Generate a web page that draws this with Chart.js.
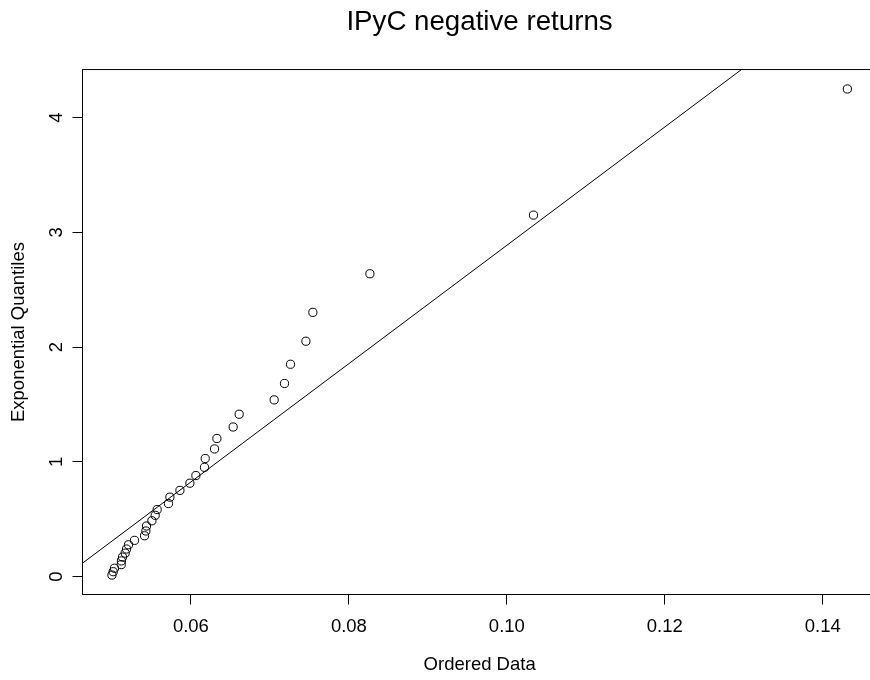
<!DOCTYPE html>
<html lang="en">
<head>
<meta charset="UTF-8">
<title>IPyC negative returns</title>
<script src="https://cdn.jsdelivr.net/npm/chart.js@4.4.1/dist/chart.umd.min.js"></script>
<style>
  html, body { margin: 0; padding: 0; background: #fff; overflow: hidden; }
  .frame { width: 870px; height: 680px; overflow: hidden; position: relative; }
  canvas { position: absolute; left: 0; top: 0; }
</style>
</head>
<body>
<div class="frame">
  <canvas id="qqChart" width="959" height="680" style="width:959px;height:680px"></canvas>
</div>
<script>
// ordered negative returns (x) vs exponential quantiles (y)
const orderedData = [
  0.05000, 0.05016, 0.05033, 0.05118, 0.05120, 0.05134, 0.05168, 0.05185,
  0.05210, 0.05286, 0.05413, 0.05430, 0.05438, 0.05506, 0.05548, 0.05573,
  0.05716, 0.05734, 0.05861, 0.05987, 0.06063, 0.06172, 0.06181, 0.06299,
  0.06329, 0.06535, 0.06611, 0.07054, 0.07185, 0.07261, 0.07456, 0.07544,
  0.08266, 0.10337, 0.14311
];
const expQuantiles = [
  0.0144, 0.0438, 0.0741, 0.1054, 0.1376, 0.1710, 0.2054, 0.2412,
  0.2782, 0.3166, 0.3567, 0.3983, 0.4418, 0.4873, 0.5349, 0.5849,
  0.6376, 0.6931, 0.7520, 0.8145, 0.8812, 0.9526, 1.0296, 1.1130,
  1.2040, 1.3041, 1.4152, 1.5404, 1.6835, 1.8506, 2.0513, 2.3026,
  2.6391, 3.1499, 4.2485
];
// least squares line y = a + b*x
const lineIntercept = -2.267;
const lineSlope = 51.54;

const xTickStep = 0.02;
const yTickStep = 1;

// R style axis limits: data range plus 4% each side
function padRange(vals) {
  const lo = Math.min(...vals), hi = Math.max(...vals);
  const d = (hi - lo) * 0.04;
  return [lo - d, hi + d];
}
const [xMin, xMax] = padRange(orderedData);
const [yMin, yMax] = padRange(expQuantiles);

const points = orderedData.map((x, i) => ({ x: x, y: expQuantiles[i] }));
const refLine = [xMin, xMax].map(x => ({ x: x, y: lineIntercept + lineSlope * x }));

Chart.defaults.font.family = '"Liberation Sans", Arial, Helvetica, sans-serif';
Chart.defaults.color = '#000';

// full box around the plot region
const plotBox = {
  id: 'plotBox',
  afterDatasetsDraw(chart) {
    const a = chart.chartArea;
    const ctx = chart.ctx;
    ctx.save();
    ctx.strokeStyle = '#000';
    ctx.lineWidth = 1;
    ctx.strokeRect(a.left, a.top, a.right - a.left, a.bottom - a.top);
    ctx.restore();
  }
};

const ctx = document.getElementById('qqChart').getContext('2d');
new Chart(ctx, {
  type: 'scatter',
  data: {
    datasets: [
      {
        data: points,
        pointStyle: 'circle',
        pointRadius: 4.1,
        pointBorderWidth: 1,
        pointBorderColor: '#000',
        pointBackgroundColor: 'rgba(0,0,0,0)',
        showLine: false
      },
      {
        data: refLine,
        showLine: true,
        borderColor: '#000',
        borderWidth: 1,
        pointRadius: 0
      }
    ]
  },
  options: {
    responsive: false,
    animation: false,
    devicePixelRatio: 1,
    layout: { padding: 0 },
    plugins: {
      legend: { display: false },
      tooltip: { enabled: false },
      title: {
        display: true,
        text: 'IPyC negative returns',
        color: '#000',
        font: { size: 27.7, weight: 'normal' },
        padding: { top: 6.1, bottom: 30.2 }
      }
    },
    scales: {
      x: {
        type: 'linear',
        position: 'bottom',
        min: xMin,
        max: xMax,
        afterFit: s => { s.height = 85.5; },
        border: { display: false },
        grid: { drawOnChartArea: false, drawTicks: true, tickLength: 10, color: '#000', lineWidth: 1 },
        ticks: {
          stepSize: xTickStep,
          includeBounds: false,
          padding: 11.8,
          font: { size: 18.5 },
          color: '#000',
          maxRotation: 0,
          callback: v => v.toFixed(2)
        },
        title: {
          display: true,
          text: 'Ordered Data',
          color: '#000',
          font: { size: 18.5 },
          padding: { top: 0, bottom: 3.8 }
        }
      },
      y: {
        type: 'linear',
        position: 'left',
        min: yMin,
        max: yMax,
        afterFit: s => { s.width = 82.5; },
        border: { display: false },
        grid: { drawOnChartArea: false, drawTicks: true, tickLength: 10, color: '#000', lineWidth: 1 },
        ticks: {
          stepSize: yTickStep,
          includeBounds: false,
          padding: 10.4,
          minRotation: 90,
          maxRotation: 90,
          crossAlign: 'center',
          font: { size: 18.5 },
          color: '#000',
          callback: v => String(Math.round(v))
        },
        title: {
          display: true,
          text: 'Exponential Quantiles',
          color: '#000',
          font: { size: 18.5 },
          padding: { top: 7.7, bottom: 0 }
        }
      },
      // empty right margin so the plot is centred under the title
      margin: {
        type: 'linear',
        position: 'right',
        display: true,
        afterFit: s => { s.width = 82.2; },
        border: { display: false },
        grid: { display: false },
        ticks: { display: false },
        title: { display: false }
      }
    }
  },
  plugins: [plotBox]
});
</script>
</body>
</html>
